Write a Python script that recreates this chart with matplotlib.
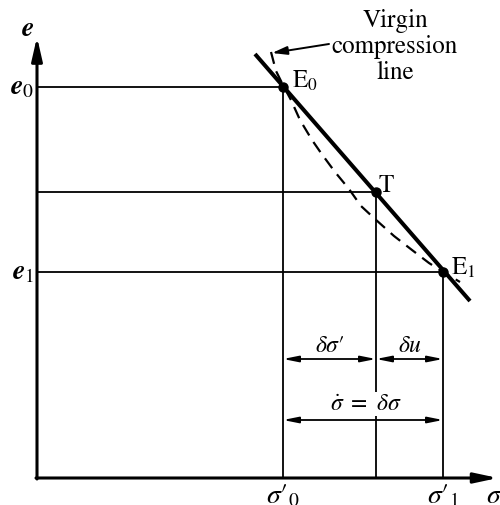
import matplotlib.pyplot as plt

plt.rcParams["mathtext.fontset"] = "stix"
plt.rcParams["font.family"] = ["STIXGeneral", "DejaVu Serif"]

# axis origin and ends (sigma, e)
origin = (37, 27)
sigma_end = 498
e_end = 468

# states on the e - sigma' diagram
sigma0, e0 = 283, 418      # E0
sigmaT, eT = 376, 313      # T
sigma1, e1 = 443, 233      # E1

# virgin compression line end points
vcl_sigma = [255, 470]
vcl_e = [451, 204]

# actual (dashed) path from E0 to E1
path_sigma = [271, 276, 284, 291, 300, 312, 321, 335, 349, 361, 375, 394, 412, 429, 443, 460]
path_e = [453, 434, 418, 405, 385, 365, 352, 333, 316, 299, 286, 269, 255, 242, 233, 223]

# dimension lines
dim1_e = 146
dim2_e = 85

fig = plt.figure(figsize=(5.0, 5.06), dpi=100)
ax = fig.add_axes([0, 0, 1, 1])
ax.set_xlim(0, 500)
ax.set_ylim(0, 506)
ax.axis("off")

k = "black"

# axes with arrows
ax.annotate("", xy=(sigma_end, origin[1]), xytext=(origin[0] - 1, origin[1]),
            arrowprops=dict(arrowstyle="-|>,head_length=1.4,head_width=0.3",
                            lw=2.2, color=k, shrinkA=0, shrinkB=0))
ax.annotate("", xy=(origin[0], e_end), xytext=(origin[0], origin[1] - 1),
            arrowprops=dict(arrowstyle="-|>,head_length=1.4,head_width=0.32",
                            lw=2.2, color=k, shrinkA=0, shrinkB=0))

# projection lines
for s, e in [(sigma0, e0), (sigmaT, eT), (sigma1, e1)]:
    ax.plot([origin[0], s], [e, e], color=k, lw=1.3)
    ax.plot([s, s], [origin[1], e], color=k, lw=1.3)

# virgin compression line and path
ax.plot(vcl_sigma, vcl_e, color=k, lw=2.9, solid_capstyle="butt")
ax.plot(path_sigma, path_e, color=k, lw=1.6, linestyle=(0, (5.5, 3.5)))

ax.plot([sigma0, sigmaT, sigma1], [e0, eT, e1], "o", color=k, ms=6.5)

# dimension arrows
dim = dict(arrowstyle="<|-|>,head_length=0.9,head_width=0.18", lw=1.3,
           color=k, shrinkA=0, shrinkB=0)
ax.annotate("", xy=(sigma0, dim1_e), xytext=(sigmaT, dim1_e), arrowprops=dim)
ax.annotate("", xy=(sigmaT, dim1_e), xytext=(sigma1, dim1_e), arrowprops=dim)
ax.annotate("", xy=(sigma0, dim2_e), xytext=(sigma1, dim2_e), arrowprops=dim)

ax.text(330, dim1_e + 3, "$\\delta\\sigma\u2032$", fontsize=17, ha="center", va="bottom")
ax.text(410, dim1_e + 3, r"$\delta u$", fontsize=17, ha="center", va="bottom")
ax.text(366, dim2_e + 5, r"$\dot{\sigma}\ =\ \delta\sigma$", fontsize=17,
        ha="center", va="bottom", zorder=5,
        bbox=dict(boxstyle="square,pad=0.05", fc="white", ec="none"))

# point labels
ax.text(292, 418, r"$\mathrm{E}_0$", fontsize=18, ha="left", va="baseline")
ax.text(378, 314, r"$\mathrm{T}$", fontsize=18, ha="left", va="baseline")
ax.text(451, 231, r"$\mathrm{E}_1$", fontsize=18, ha="left", va="baseline")

# axis labels
ax.text(28, 470, r"$\boldsymbol{e}$", fontsize=20, ha="center", va="baseline")
ax.text(34, 418, r"$\boldsymbol{e}_0$", fontsize=20, ha="right", va="center")
ax.text(34, 233, r"$\boldsymbol{e}_1$", fontsize=20, ha="right", va="center")
ax.text(sigma0, 3, "$\\sigma\u2032_{0}$", fontsize=20, ha="center", va="baseline")
ax.text(sigma1, 3, "$\\sigma\u2032_{1}$", fontsize=20, ha="center", va="baseline")
ax.text(486, 3, r"$\sigma$", fontsize=20, ha="left", va="baseline")

# label for the virgin compression line
ax.text(395, 459, "Virgin\ncompression\nline", fontsize=18, ha="center",
        va="center", linespacing=1.12)
ax.annotate("", xy=(272, 452), xytext=(329, 461),
            arrowprops=dict(arrowstyle="-|>,head_length=0.9,head_width=0.25",
                            lw=1.4, color=k, shrinkA=0, shrinkB=0))

fig.savefig("out.png", dpi=100)
